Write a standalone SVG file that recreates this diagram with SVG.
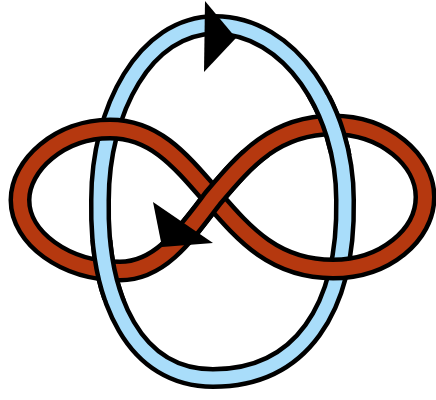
<svg xmlns="http://www.w3.org/2000/svg" width="436" height="400" viewBox="0 0 436 400">
<style>
.ob{fill:none;stroke:#000;stroke-width:22;stroke-linejoin:round}
.or{fill:none;stroke:#000;stroke-width:23;stroke-linejoin:round}
.blue{fill:none;stroke:#a9ddfa;stroke-width:13;stroke-linejoin:round}
.red{fill:none;stroke:#b5380f;stroke-width:14;stroke-linejoin:round}
.arrow{fill:#000;stroke:none}
</style>
<defs>
<path id="bluePath" d="M215,25 C290,25 345,110 345,200 C347,310 300,378 213,378 C135,378 98,300 100,200 C100,110 145,25 215,25 Z"/>
<path id="redPath" d="M213,198 C245,160 275,125 333,125 C385,125 425,160 425,197 C425,235 385,269 333,269 C275,269 245,235 213,198 C180,160 155,129 110,129 C60,129 20,165 20,200 C20,238 65,271 120,271 C160,271 185,235 213,198 Z"/>
<path id="redOver" d="M120,271 C160,271 185,235 213,198 C245,160 275,125 333,125"/>
<clipPath id="clipBlue"><rect x="70" y="240" width="60" height="60"/><rect x="305" y="95" width="60" height="60"/></clipPath>
<clipPath id="clipCenter"><rect x="160" y="150" width="110" height="95"/></clipPath>
</defs>
<g id="connectors">
<g id="blue-loop">
<use href="#bluePath" class="ob"/>
<use href="#bluePath" class="blue"/>
</g>
<g id="red-eight">
<use href="#redPath" class="or"/>
<use href="#redPath" class="red"/>
</g>
<g id="blue-over" clip-path="url(#clipBlue)">
<use href="#bluePath" class="ob"/>
<use href="#bluePath" class="blue"/>
</g>
<g id="red-over" clip-path="url(#clipCenter)">
<use href="#redOver" class="or"/>
<use href="#redOver" class="red"/>
</g>
<g id="arrows">
<polygon class="arrow" points="205,1 236,38 204,72"/>
<polygon class="arrow" points="153,202 213,243 162,247"/>
</g>
</g>
</svg>
